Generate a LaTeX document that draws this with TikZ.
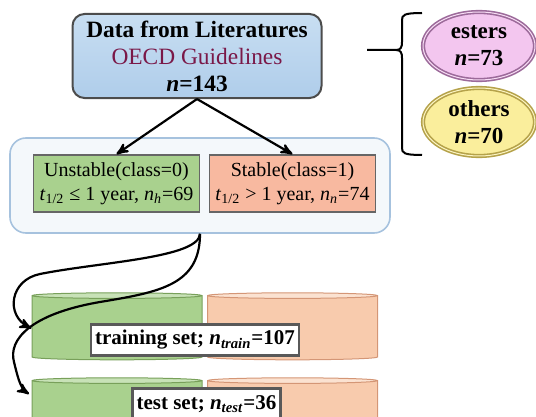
\documentclass[tikz,border=0pt]{standalone}
\usepackage{fontspec}
\setmainfont{Liberation Serif}
\usetikzlibrary{arrows,positioning,shapes.geometric}
\definecolor{litblue}{RGB}{200,222,242}
\definecolor{litdark}{RGB}{175,205,234}
\definecolor{oecd}{RGB}{122,24,72}
\definecolor{frame}{RGB}{166,194,222}
\definecolor{cgreen}{RGB}{169,209,142}
\definecolor{cgreentop}{RGB}{200,226,183}
\definecolor{cgreenline}{RGB}{120,160,90}
\definecolor{csalmon}{RGB}{248,203,173}
\definecolor{csalmontop}{RGB}{251,226,209}
\definecolor{csalmonline}{RGB}{212,150,118}
\definecolor{stab}{RGB}{248,185,160}
\definecolor{ester}{RGB}{243,198,239}
\definecolor{esterline}{RGB}{156,106,154}
\definecolor{other}{RGB}{250,238,156}
\definecolor{otherline}{RGB}{181,162,74}

\begin{document}
\begin{tikzpicture}[x=0.5pt,y=-0.5pt,
  cls/.style={draw=black!60, line width=0.8pt, minimum width=83pt, minimum height=28.5pt, align=center, inner sep=1pt, font=\fontsize{10}{12}\selectfont},
  db/.style={cylinder, shape border rotate=90, aspect=0.42, minimum width=85pt, minimum height=33.5pt, cylinder uses custom fill, line width=0.5pt},
  setlabel/.style={fill=white, draw=black!65, line width=1.2pt, minimum height=15.5pt, inner sep=2pt, font=\fontsize{10.5}{12}\selectfont\bfseries},
  group/.style={ellipse, line width=0.8pt, double distance=0.5pt, minimum width=56pt, minimum height=34pt, align=center, inner sep=0pt, font=\fontsize{11.5}{13.5}\selectfont\bfseries}]
  \useasboundingbox (0,0) rectangle (536,417);
  \clip (0,0) rectangle (536,417);

  \node[draw=black!70, line width=1pt, rounded corners=6pt, top color=litblue, bottom color=litdark, minimum width=124.5pt, minimum height=42pt, align=center, font=\fontsize{11.7}{13.5}\selectfont] (lit) at (197,56)
    {\textbf{Data from Literatures}\\ \textcolor{oecd}{OECD Guidelines}\\ \textbf{\textit{n}=143}};

  \draw[line width=1pt] (367,50) -- (396,50) .. controls (401,50) and (402,47) .. (402,42) -- (402,20) .. controls (402,15) and (404,13) .. (422,13)
    (396,50) .. controls (401,50) and (402,53) .. (402,58) -- (402,148) .. controls (402,153) and (404,155) .. (422,155);
  \node[group, draw=esterline, double=ester!60, fill=ester] (esters) at (479,46) {esters\\ \textit{n}=73};
  \node[group, draw=otherline, double=other!60, fill=other] (others) at (479,122) {others\\ \textit{n}=70};

  \node[draw=frame, line width=0.8pt, rounded corners=8pt, fill=frame!12, minimum width=190pt, minimum height=47.5pt] (split) at (200,185.5) {};
  \node[cls, fill=cgreen] (unstable) at (116.5,183.5) {Unstable(class=0)\\ \textit{t}\textsubscript{1/2} ≤ 1 year, \textit{n}\textsubscript{\textit{h}}=69};
  \node[cls, fill=stab] (stable) at (292.5,183.5) {Stable(class=1)\\ \textit{t}\textsubscript{1/2} > 1 year, \textit{n}\textsubscript{\textit{n}}=74};
  \path[-stealth', line width=1.1pt] (lit.south) edge (unstable.north) edge (stable.north);

  \node[db, draw=cgreenline, cylinder body fill=cgreen, cylinder end fill=cgreentop] (trainG) at (117,328.5) {};
  \node[db, draw=csalmonline, cylinder body fill=csalmon, cylinder end fill=csalmontop] (trainS) at (292.5,328.5) {};
  \node[db, draw=cgreenline, cylinder body fill=cgreen, cylinder end fill=cgreentop] (testG) at (117,413.5) {};
  \node[db, draw=csalmonline, cylinder body fill=csalmon, cylinder end fill=csalmontop] (testS) at (292.5,413.5) {};
  \coordinate (testIn) at (29,394);

  \draw[-stealth', line width=1.1pt] (split.south) .. controls (199,258) and (100,262) .. (40,274) .. controls (10,280) and (5,315) .. (trainG.west);
  \draw[-stealth', line width=1.1pt] (split.south) .. controls (200,285) and (160,292) .. (100,302) .. controls (30,314) and (8,340) .. (14,362) .. controls (17,374) and (20,388) .. (testIn);

  \node[setlabel] (train) at (195,340) {training set; \textit{n}\textsubscript{\textit{train}}=107};
  \node[setlabel] (test) at (206.5,404) {test set; \textit{n}\textsubscript{\textit{test}}=36};
\end{tikzpicture}
\end{document}
